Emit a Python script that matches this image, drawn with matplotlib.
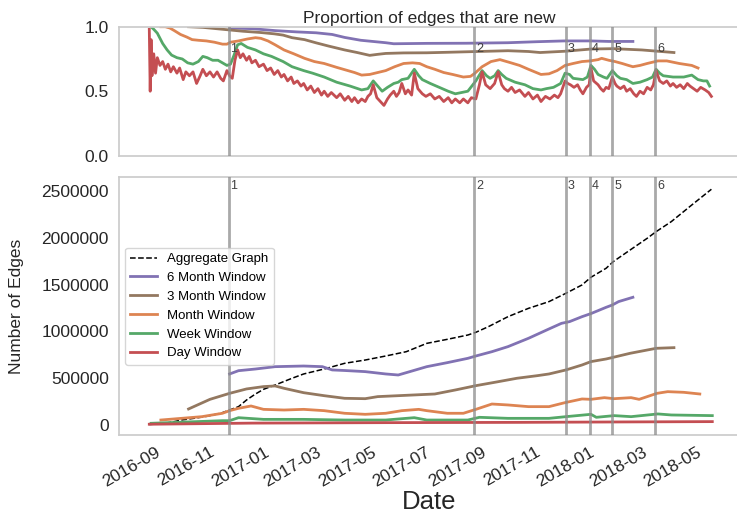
import matplotlib
matplotlib.use('Agg')
import matplotlib.pyplot as plt
import matplotlib.dates as mdates
import pandas as pd

plt.rcParams['font.family'] = ['Liberation Sans', 'DejaVu Sans']

BASE = '2016-09-01'  # day offsets below are counted from this date

# ---------------- top panel: proportion of edges that are new ----------------
purple_top = [(75, 0.99), (100, 0.985), (126, 0.97), (150, 0.96), (172, 0.953), (190, 0.94),
              (204, 0.917), (222, 0.895), (250, 0.876), (259, 0.868), (296, 0.871), (340, 0.872),
              (387, 0.876), (420, 0.884), (450, 0.89), (480, 0.89), (500, 0.886), (527, 0.886)]

brown_top = [(29, 1.0), (45, 0.995), (60, 0.985), (75, 0.975), (90, 0.965), (110, 0.955), (125, 0.945),
             (135, 0.935), (145, 0.915), (159, 0.90), (172, 0.875), (186, 0.85), (195, 0.835),
             (204, 0.82), (218, 0.80), (232, 0.778), (241, 0.786), (250, 0.793), (270, 0.797),
             (296, 0.798), (320, 0.802), (342, 0.806), (365, 0.81), (387, 0.814), (410, 0.808),
             (423, 0.80), (451, 0.81), (480, 0.827), (505, 0.83), (537, 0.82), (573, 0.80)]

orange_top = [(-2, 1.0), (3, 1.0), (8, 0.99), (13, 0.97), (20, 0.94), (27, 0.92), (33, 0.90),
              (40, 0.895), (49, 0.89), (58, 0.88), (67, 0.865), (72, 0.865), (76, 0.88), (85, 0.89),
              (95, 0.905), (104, 0.915), (110, 0.91), (118, 0.89), (126, 0.86), (136, 0.82),
              (147, 0.79), (159, 0.755), (170, 0.73), (181, 0.715), (195, 0.685), (205, 0.665),
              (215, 0.645), (223, 0.625), (232, 0.63), (241, 0.645), (250, 0.66), (260, 0.69),
              (270, 0.715), (280, 0.72), (288, 0.715), (296, 0.69), (305, 0.67), (315, 0.645),
              (325, 0.63), (337, 0.61), (345, 0.615), (350, 0.64), (358, 0.69), (368, 0.73),
              (378, 0.745), (388, 0.725), (400, 0.70), (410, 0.67), (424, 0.63), (433, 0.635),
              (442, 0.66), (451, 0.70), (460, 0.715), (470, 0.73), (479, 0.735), (488, 0.745),
              (492, 0.755), (500, 0.74), (507, 0.73), (515, 0.715), (522, 0.70), (527, 0.69),
              (535, 0.70), (543, 0.715), (555, 0.735), (565, 0.735), (579, 0.715), (593, 0.70),
              (600, 0.68)]

green_top = [(-13, 1.0), (-10, 0.98), (-6, 0.95), (0, 0.87), (5, 0.82), (10, 0.78), (16, 0.76),
             (22, 0.75), (28, 0.72), (34, 0.71), (40, 0.73), (45, 0.77), (50, 0.76), (56, 0.74),
             (62, 0.74), (67, 0.72), (72, 0.70), (76, 0.71), (80, 0.78), (84, 0.86), (88, 0.87),
             (95, 0.84), (104, 0.82), (113, 0.79), (122, 0.77), (135, 0.73), (145, 0.69),
             (158, 0.66), (168, 0.64), (181, 0.61), (195, 0.57), (210, 0.54), (223, 0.51),
             (230, 0.52), (236, 0.58), (241, 0.54), (246, 0.50), (252, 0.53), (259, 0.56),
             (264, 0.57), (268, 0.59), (275, 0.60), (282, 0.67), (287, 0.62), (291, 0.59),
             (300, 0.56), (310, 0.53), (320, 0.50), (328, 0.48), (335, 0.49), (342, 0.50),
             (351, 0.58), (358, 0.66), (363, 0.62), (367, 0.60), (372, 0.62), (376, 0.66),
             (380, 0.63), (385, 0.60), (395, 0.57), (406, 0.55), (415, 0.52), (424, 0.51),
             (430, 0.52), (438, 0.53), (446, 0.56), (451, 0.64), (456, 0.63), (460, 0.60),
             (471, 0.59), (476, 0.61), (480, 0.70), (484, 0.67), (488, 0.63), (494, 0.61),
             (498, 0.60), (504, 0.66), (509, 0.62), (513, 0.60), (520, 0.59), (527, 0.56),
             (535, 0.57), (543, 0.59), (549, 0.61), (553, 0.67), (557, 0.64), (561, 0.62),
             (572, 0.61), (584, 0.61), (593, 0.625), (600, 0.59), (606, 0.58), (610, 0.58),
             (613, 0.54)]

red_top = [(-15, 0.98), (-14, 0.50), (-13, 0.90), (-12, 0.62), (-10, 0.79), (-8, 0.64), (-6, 0.76),
           (-3, 0.70), (0, 0.73), (3, 0.67), (6, 0.71), (9, 0.65), (12, 0.69), (16, 0.64), (19, 0.68),
           (23, 0.59), (26, 0.65), (30, 0.62), (34, 0.65), (38, 0.56), (42, 0.62), (45, 0.67),
           (49, 0.62), (53, 0.65), (57, 0.61), (61, 0.65), (65, 0.60), (68, 0.58), (72, 0.66),
           (75, 0.62), (78, 0.60), (81, 0.74), (84, 0.82), (87, 0.76), (90, 0.79), (94, 0.74),
           (97, 0.77), (100, 0.72), (104, 0.74), (108, 0.69), (113, 0.71), (117, 0.66), (121, 0.68),
           (125, 0.63), (129, 0.66), (133, 0.61), (136, 0.63), (140, 0.58), (144, 0.61), (147, 0.56),
           (151, 0.58), (155, 0.54), (158, 0.56), (162, 0.51), (166, 0.54), (170, 0.49), (174, 0.52),
           (178, 0.47), (181, 0.50), (185, 0.46), (189, 0.49), (195, 0.45), (199, 0.48), (204, 0.43),
           (208, 0.46), (212, 0.42), (215, 0.45), (219, 0.41), (223, 0.44), (227, 0.42), (230, 0.46),
           (233, 0.48), (236, 0.55), (240, 0.45), (244, 0.42), (248, 0.39), (252, 0.44), (255, 0.47),
           (259, 0.50), (262, 0.46), (265, 0.49), (268, 0.56), (272, 0.48), (275, 0.51), (279, 0.47),
           (282, 0.64), (286, 0.52), (291, 0.48), (295, 0.46), (300, 0.48), (305, 0.44), (310, 0.46),
           (315, 0.42), (320, 0.45), (324, 0.41), (328, 0.44), (333, 0.41), (337, 0.44), (342, 0.41),
           (346, 0.45), (351, 0.44), (355, 0.55), (358, 0.65), (362, 0.55), (367, 0.52), (372, 0.56),
           (376, 0.65), (380, 0.55), (383, 0.52), (387, 0.50), (391, 0.53), (395, 0.49), (400, 0.51),
           (406, 0.46), (410, 0.49), (415, 0.44), (420, 0.47), (424, 0.42), (429, 0.46), (434, 0.44),
           (439, 0.47), (443, 0.45), (446, 0.48), (451, 0.58), (454, 0.56), (457, 0.55), (461, 0.53),
           (465, 0.55), (468, 0.51), (471, 0.48), (475, 0.53), (478, 0.55), (480, 0.68), (483, 0.58),
           (488, 0.55), (491, 0.52), (494, 0.50), (497, 0.53), (500, 0.52), (504, 0.61), (507, 0.56),
           (509, 0.54), (513, 0.52), (517, 0.54), (520, 0.50), (524, 0.52), (528, 0.48), (531, 0.46),
           (535, 0.50), (539, 0.48), (543, 0.53), (547, 0.51), (550, 0.55), (553, 0.66), (557, 0.58),
           (561, 0.56), (565, 0.58), (569, 0.54), (572, 0.56), (576, 0.53), (580, 0.55), (584, 0.52),
           (588, 0.56), (591, 0.54), (595, 0.52), (599, 0.50), (603, 0.53), (608, 0.51), (612, 0.49),
           (615, 0.46)]

# ---------------- bottom panel: number of edges ----------------
aggregate = [(-15, 5000), (0, 15000), (10, 30000), (21, 53000), (34, 70000), (48, 90000),
             (60, 115000), (67, 132000), (75, 160000), (85, 196000), (94, 267000), (104, 331000),
             (113, 381000), (126, 427000), (145, 499000), (158, 545000), (181, 598000),
             (204, 659000), (227, 694000), (250, 737000), (273, 783000), (296, 872000),
             (319, 915000), (342, 961000), (351, 990000), (365, 1050000), (387, 1157000),
             (410, 1246000), (433, 1318000), (452, 1407000), (470, 1496000), (480, 1578000),
             (497, 1674000), (505, 1745000), (524, 1870000), (543, 1994000), (553, 2065000),
             (570, 2172000), (593, 2350000), (615, 2518000)]

purple_cnt = [(75, 545000), (85, 580000), (104, 598000), (126, 623000), (158, 630000), (179, 623000),
              (190, 588000), (204, 582000), (227, 570000), (250, 545000), (264, 534000), (277, 570000),
              (296, 623000), (319, 666000), (342, 712000), (351, 737000), (369, 783000), (387, 837000),
              (410, 926000), (433, 1026000), (447, 1086000), (456, 1104000), (470, 1157000),
              (480, 1190000), (497, 1257000), (504, 1282000), (511, 1318000), (527, 1364000)]

brown_cnt = [(29, 171000), (39, 214000), (53, 274000), (75, 338000), (94, 385000), (113, 410000),
             (126, 417000), (136, 392000), (158, 345000), (181, 313000), (204, 285000), (227, 281000),
             (241, 303000), (273, 317000), (305, 331000), (328, 374000), (351, 420000), (374, 459000),
             (397, 499000), (420, 527000), (433, 545000), (452, 588000), (470, 641000), (480, 677000),
             (497, 705000), (505, 723000), (524, 766000), (553, 819000), (573, 826000)]

orange_cnt = [(-2, 53000), (21, 71000), (44, 89000), (67, 125000), (75, 153000), (85, 178000),
              (99, 203000), (113, 167000), (136, 160000), (158, 167000), (181, 153000), (204, 125000),
              (227, 114000), (250, 125000), (268, 153000), (287, 167000), (296, 153000), (319, 125000),
              (337, 125000), (351, 167000), (369, 224000), (387, 214000), (410, 196000), (433, 196000),
              (451, 239000), (470, 278000), (480, 274000), (495, 292000), (506, 281000), (525, 292000),
              (534, 274000), (554, 338000), (566, 356000), (584, 349000), (602, 331000)]

green_cnt = [(-13, 18000), (67, 46000), (75, 46000), (85, 78000), (113, 60000), (158, 60000),
             (204, 53000), (250, 53000), (282, 78000), (296, 53000), (342, 53000), (355, 82000),
             (387, 71000), (433, 71000), (452, 89000), (480, 114000), (486, 82000), (506, 100000),
             (525, 89000), (555, 118000), (570, 107000), (616, 100000)]

red_cnt = [(-15, 8000), (100, 20000), (250, 25000), (400, 28000), (500, 32000), (616, 36000)]

event_days = [74, 349, 452, 479, 504, 552]
event_labels = ['1', '2', '3', '4', '5', '6']

series_names = ['6 Month Window', '3 Month Window', 'Month Window', 'Week Window', 'Day Window']
series_colors = ['#8172B3', '#937860', '#DD8452', '#55A868', '#C44E52']


def to_xy(pairs):
    days, vals = zip(*pairs)
    return pd.Timestamp(BASE) + pd.to_timedelta(list(days), unit='D'), list(vals)


fig = plt.figure(figsize=(7.37, 5.17), dpi=100)
ax1 = fig.add_axes([0.1608, 0.6988, 0.842, 0.2495])
ax2 = fig.add_axes([0.1608, 0.1586, 0.842, 0.4985], sharex=ax1)

for ax in (ax1, ax2):
    for sp in ax.spines.values():
        sp.set_color('0.8')
        sp.set_linewidth(1.25)
    ax.tick_params(length=0, labelsize=12.5, colors='0.15', pad=7)

# top panel
for pairs, c in zip([purple_top, brown_top, orange_top, green_top, red_top], series_colors):
    x, y = to_xy(pairs)
    ax1.plot(x, y, color=c, lw=2)
ax1.set_ylim(0, 1)
ax1.set_yticks([0.0, 0.5, 1.0])
ax1.set_title('Proportion of edges that are new', fontsize=12.5, color='0.15', pad=3)
plt.setp(ax1.get_xticklabels(), visible=False)

# bottom panel
xa, ya = to_xy(aggregate)
ax2.plot(xa, ya, color='k', ls='--', lw=1.1, label='Aggregate Graph')
for pairs, c, n in zip([purple_cnt, brown_cnt, orange_cnt, green_cnt, red_cnt], series_colors, series_names):
    x, y = to_xy(pairs)
    ax2.plot(x, y, color=c, lw=2, label=n)

ax2.set_ylim(-107000, 2646000)
ax2.set_yticks([0, 500000, 1000000, 1500000, 2000000, 2500000])
ax2.set_yticklabels(['0', '500000', '1000000', '1500000', '2000000', '2500000'])

# events
ev_dates = pd.Timestamp(BASE) + pd.to_timedelta(event_days, unit='D')
for d, lab in zip(ev_dates, event_labels):
    for ax, yy in ((ax1, 0.83), (ax2, 0.966)):
        ax.axvline(d, color='0.55', alpha=0.75, lw=2, zorder=5)
        ax.text(d + pd.Timedelta(days=2), yy, lab, transform=ax.get_xaxis_transform(),
                fontsize=9, color='0.25', va='center', ha='left', zorder=6)

ax2.set_xlim(pd.Timestamp(BASE) - pd.Timedelta(days=49.5), pd.Timestamp(BASE) + pd.Timedelta(days=646))
ax2.xaxis.set_major_locator(mdates.MonthLocator(bymonth=[1, 3, 5, 7, 9, 11]))
ax2.xaxis.set_major_formatter(mdates.DateFormatter('%Y-%m'))
for lab in ax2.get_xticklabels():
    lab.set_rotation(30)
    lab.set_ha('right')

ax2.set_xlabel('Date', fontsize=18.5, color='0.15', labelpad=0)
ax2.set_ylabel('Number of Edges', fontsize=12.5, color='0.15')
ax2.yaxis.set_label_coords(-0.152, 0.5)

leg = ax2.legend(loc='center left', fontsize=9.5, frameon=True, borderaxespad=0.5)
leg.get_frame().set_edgecolor('0.8')

fig.savefig('out.png', dpi=100)
